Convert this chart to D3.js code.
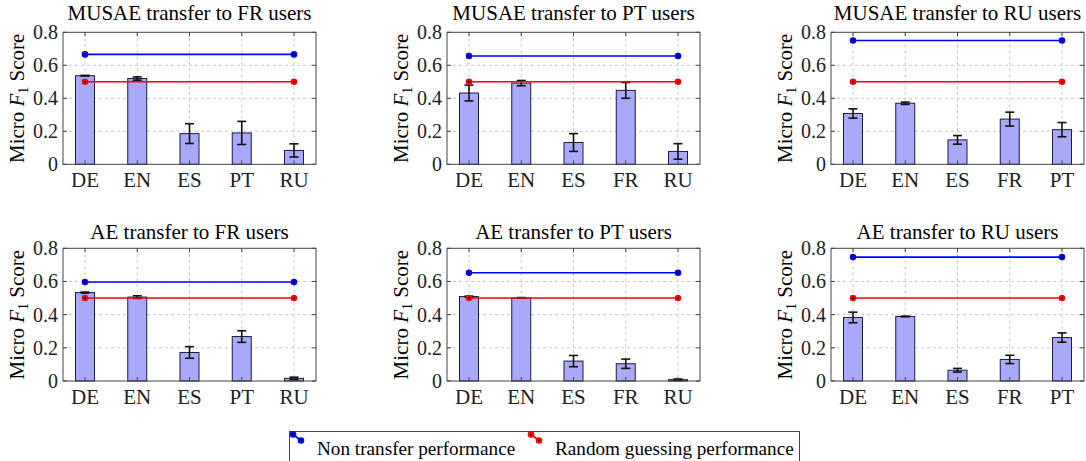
<!DOCTYPE html>
<html lang="en">
<head>
<meta charset="UTF-8">
<title>Transfer performance</title>
<script src="https://d3js.org/d3.v7.min.js"></script>
<style>
  body { margin: 0; background: #fff; }
  text { font-family: "Liberation Serif", "DejaVu Serif", serif; }
  .grid line { stroke: #c8c8c8; stroke-dasharray: 3,3; }
  .tick-label { font-size: 20px; fill: #222; }
</style>
</head>
<body>
<svg id="chart" width="1086" height="461"></svg>
<script>
// panel titles
const titles = [
  "MUSAE transfer to FR users", "MUSAE transfer to PT users", "MUSAE transfer to RU users",
  "AE transfer to FR users", "AE transfer to PT users", "AE transfer to RU users"
];
// source languages per panel
const cats = [
  ["DE", "EN", "ES", "PT", "RU"],
  ["DE", "EN", "ES", "FR", "RU"],
  ["DE", "EN", "ES", "FR", "PT"],
  ["DE", "EN", "ES", "PT", "RU"],
  ["DE", "EN", "ES", "FR", "RU"],
  ["DE", "EN", "ES", "FR", "PT"]
];
// mean micro F1 per source language
const scores = [
  [0.537, 0.520, 0.186, 0.190, 0.084],
  [0.432, 0.492, 0.132, 0.448, 0.078],
  [0.308, 0.370, 0.148, 0.274, 0.210],
  [0.533, 0.506, 0.172, 0.268, 0.016],
  [0.509, 0.501, 0.120, 0.104, 0.008],
  [0.383, 0.389, 0.065, 0.130, 0.262]
];
// standard deviations (error bars)
const errors = [
  [0.002, 0.010, 0.060, 0.070, 0.040],
  [0.048, 0.016, 0.054, 0.048, 0.047],
  [0.028, 0.007, 0.026, 0.042, 0.043],
  [0.003, 0.008, 0.035, 0.035, 0.007],
  [0.003, 0.002, 0.034, 0.028, 0.004],
  [0.032, 0.002, 0.011, 0.025, 0.028]
];
const nonTransfer = [0.666, 0.656, 0.75, 0.597, 0.653, 0.747];
const randomGuess = [0.5, 0.5, 0.5, 0.5, 0.5, 0.5];
const yTicks = [0, 0.2, 0.4, 0.6, 0.8];
const legendLabels = ["Non transfer performance", "Random guessing performance"];

const svg = d3.select("#chart");
const colLeft = [63, 447, 831];
const rowTop = [32.3, 248.3];
const rowBottom = [164.3, 381];
const titleBase = [20, 239];
const pw = 253;
const barW = 19;

function marker(g, x, y, color) {
  g.append("circle").attr("cx", x).attr("cy", y).attr("r", 3.3).attr("fill", color);
  g.append("circle").attr("cx", x).attr("cy", y).attr("r", 1.1).attr("fill", "#111");
}

titles.forEach((title, i) => {
  const r = Math.floor(i / 3), c = i % 3;
  const left = colLeft[c], top = rowTop[r], bottom = rowBottom[r];
  const g = svg.append("g");

  const x = d3.scalePoint().domain(cats[i]).range([left + 22, left + 231]);
  const y = d3.scaleLinear().domain([0, 0.8]).range([bottom, top]);

  // grid
  const grid = g.append("g").attr("class", "grid");
  grid.selectAll(".h").data(yTicks.slice(1, -1)).join("line")
    .attr("x1", left).attr("x2", left + pw)
    .attr("y1", d => y(d)).attr("y2", d => y(d));
  grid.selectAll(".v").data(cats[i]).join("line")
    .attr("x1", d => x(d)).attr("x2", d => x(d))
    .attr("y1", top).attr("y2", bottom);

  // bars
  const data = cats[i].map((k, j) => ({ k, v: scores[i][j], e: errors[i][j] }));
  g.selectAll("rect.bar").data(data).join("rect")
    .attr("class", "bar")
    .attr("x", d => x(d.k) - barW / 2)
    .attr("width", barW)
    .attr("y", d => y(d.v))
    .attr("height", d => y(0) - y(d.v))
    .attr("fill", "#a9a9fb")
    .attr("stroke", "#1c1c3a")
    .attr("stroke-width", 1);

  // error bars
  const eb = g.append("g").attr("stroke", "#111").attr("stroke-width", 1.6);
  data.forEach(d => {
    const cx = x(d.k), y1 = y(d.v + d.e), y2 = y(d.v - d.e);
    eb.append("line").attr("x1", cx).attr("x2", cx).attr("y1", y1).attr("y2", y2);
    eb.append("line").attr("x1", cx - 4.5).attr("x2", cx + 4.5).attr("y1", y1).attr("y2", y1);
    eb.append("line").attr("x1", cx - 4.5).attr("x2", cx + 4.5).attr("y1", y2).attr("y2", y2);
  });

  // reference lines
  const first = cats[i][0], last = cats[i][cats[i].length - 1];
  [[nonTransfer[i], "#0000ff"], [randomGuess[i], "#ff0000"]].forEach(([v, col]) => {
    g.append("line")
      .attr("x1", x(first)).attr("x2", x(last))
      .attr("y1", y(v)).attr("y2", y(v))
      .attr("stroke", col).attr("stroke-width", 1.6);
    marker(g, x(first), y(v), col);
    marker(g, x(last), y(v), col);
  });

  // frame
  g.append("rect")
    .attr("x", left).attr("y", top).attr("width", pw).attr("height", bottom - top)
    .attr("fill", "none").attr("stroke", "#444").attr("stroke-width", 1);

  // ticks
  const tk = g.append("g").attr("stroke", "#444");
  yTicks.forEach(t => {
    tk.append("line").attr("x1", left).attr("x2", left + 4).attr("y1", y(t)).attr("y2", y(t));
    tk.append("line").attr("x1", left + pw - 4).attr("x2", left + pw).attr("y1", y(t)).attr("y2", y(t));
  });
  cats[i].forEach(k => {
    tk.append("line").attr("x1", x(k)).attr("x2", x(k)).attr("y1", bottom).attr("y2", bottom - 4);
    tk.append("line").attr("x1", x(k)).attr("x2", x(k)).attr("y1", top).attr("y2", top + 4);
  });

  // tick labels
  g.selectAll("text.yl").data(yTicks).join("text")
    .attr("class", "tick-label")
    .attr("x", left - 5).attr("y", d => y(d) + 7)
    .attr("text-anchor", "end")
    .text(d => d === 0 ? "0" : d.toFixed(1));
  g.selectAll("text.xl").data(cats[i]).join("text")
    .attr("class", "tick-label")
    .attr("x", d => x(d)).attr("y", bottom + 23)
    .attr("text-anchor", "middle")
    .style("font-size", "21px")
    .text(d => d);

  // title
  g.append("text")
    .attr("x", left + pw / 2).attr("y", titleBase[r])
    .attr("text-anchor", "middle")
    .style("font-size", "21px")
    .text(title);

  // y label
  const yl = g.append("text")
    .attr("transform", `translate(${left - 39},${(top + bottom) / 2}) rotate(-90)`)
    .attr("text-anchor", "middle")
    .style("font-size", "21px");
  yl.append("tspan").text("Micro ");
  yl.append("tspan").style("font-style", "italic").text("F");
  yl.append("tspan").attr("dy", 4).style("font-size", "14px").text("1");
  yl.append("tspan").attr("dy", -4).text(" Score");
});

// legend
const lg = svg.append("g");
lg.append("rect").attr("x", 289.5).attr("y", 431.5).attr("width", 510).attr("height", 40)
  .attr("fill", "#fff").attr("stroke", "#444");
const legendColors = ["#0000ff", "#ff0000"];
const legendX = [293, 531];
legendLabels.forEach((lab, j) => {
  const x0 = legendX[j];
  lg.append("line").attr("x1", x0).attr("y1", 434.5).attr("x2", x0 + 8).attr("y2", 440.5)
    .attr("stroke", legendColors[j]).attr("stroke-width", 1.6);
  marker(lg, x0, 434.5, legendColors[j]);
  marker(lg, x0 + 8, 440.5, legendColors[j]);
  lg.append("text").attr("x", x0 + 24).attr("y", 455)
    .style("font-size", "19.2px").text(lab);
});
</script>
</body>
</html>
